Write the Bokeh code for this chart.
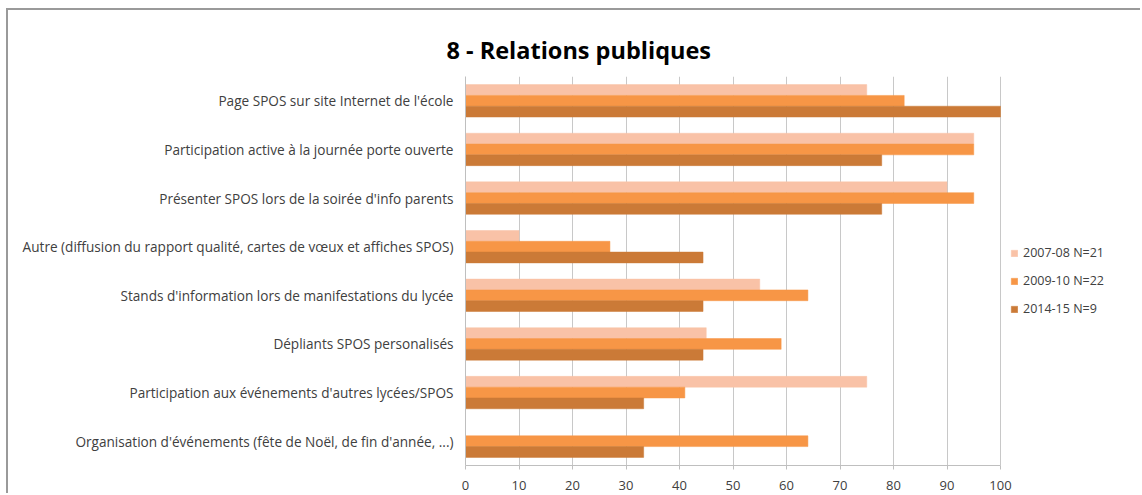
from bokeh.plotting import figure
from bokeh.models import ColumnDataSource, FactorRange, Legend, LegendItem, FixedTicker
from bokeh.transform import dodge
from bokeh.embed import file_html
from bokeh.resources import INLINE

categories = [
    "Page SPOS sur site Internet de l'école",
    "Participation active à la journée porte ouverte",
    "Présenter SPOS lors de la soirée d'info parents",
    "Autre (diffusion du rapport qualité, cartes de vœux et affiches SPOS)",
    "Stands d'information lors de manifestations du lycée",
    "Dépliants SPOS personalisés",
    "Participation aux événements d'autres lycées/SPOS",
    "Organisation d'événements (fête de Noël, de fin d'année, ...)",
]
series_names = ["2007-08 N=21", "2009-10 N=22", "2014-15 N=9"]
v2007 = [75, 95, 90, 10, 55, 45, 75, 0]
v2009 = [82, 95, 95, 27, 64, 59, 41, 64]
v2014 = [100, 77.8, 77.8, 44.4, 44.4, 44.4, 33.3, 33.3]
x_ticks = [0, 10, 20, 30, 40, 50, 60, 70, 80, 90, 100]

colors = ["#F9C2A7", "#F79646", "#CB7A37"]
offsets = [0.222, 0.0, -0.222]

src = ColumnDataSource(dict(cat=categories, a=v2007, b=v2009, c=v2014))

W, H = 1134, 485
LEFT = 457
AXIS_PX = 535  # pixel length of 0..100
x_end = 100 * (W - LEFT) / AXIS_PX

p = figure(
    width=W, height=H,
    y_range=FactorRange(*reversed(categories)),
    x_range=(0, x_end),
    output_backend="svg", toolbar_location=None,
    min_border_left=LEFT, min_border_right=0, min_border_top=66, min_border_bottom=30,
)
p.styles = {"margin-left": "6px", "margin-top": "8px",
            "border-top": "2px solid #9a9a9a", "border-left": "2px solid #9a9a9a"}

p.title.text = "8 - Relations publiques"
p.title.text_font = "Open Sans"
p.title.text_font_style = "bold"
p.title.text_font_size = "23.5px"
p.title.text_color = "#000000"
p.title.align = "left"
p.title.vertical_align = "middle"
p.title.offset = -19
p.title.standoff = 20

renderers = []
for key, col, off in zip(["a", "b", "c"], colors, offsets):
    r = p.hbar(y=dodge("cat", off, range=p.y_range), right=key, left=0, height=0.222,
               source=src, fill_color=col, line_color=col, line_width=0.5)
    renderers.append(r)

p.xaxis.ticker = FixedTicker(ticks=x_ticks)
p.xaxis.bounds = (0, 100)
p.xaxis.axis_line_color = "#BFBFBF"
p.xaxis.major_tick_line_color = "#BFBFBF"
p.xaxis.major_tick_out = 4
p.xaxis.major_tick_in = 0
p.xaxis.minor_tick_line_color = None
p.xaxis.major_label_text_font = "Open Sans"
p.xaxis.major_label_text_font_size = "13px"
p.xaxis.major_label_text_color = "#404040"
p.xaxis.major_label_standoff = 11

p.yaxis.axis_line_color = "#BFBFBF"
p.yaxis.major_tick_line_color = None
p.yaxis.major_tick_out = 0
p.yaxis.major_tick_in = 0
p.yaxis.minor_tick_line_color = None
p.yaxis.major_label_text_font = "Open Sans"
p.yaxis.major_label_text_font_size = "13.6px"
p.yaxis.major_label_text_color = "#404040"
p.yaxis.major_label_standoff = 12

p.xgrid.grid_line_color = "#C8C8C8"
p.xgrid.grid_line_width = 1
p.ygrid.grid_line_color = None
p.outline_line_color = None

legend = Legend(
    items=[LegendItem(label=n, renderers=[r]) for n, r in zip(series_names, renderers)],
    location=(545, 148),
    glyph_width=8, glyph_height=8,
    label_text_font="Open Sans", label_text_font_size="12.5px", label_text_color="#404040",
    spacing=11, label_standoff=5, margin=0, padding=0,
    border_line_color=None, background_fill_alpha=0,
)
p.add_layout(legend)

open("out.html", "w").write(file_html(p, INLINE))
